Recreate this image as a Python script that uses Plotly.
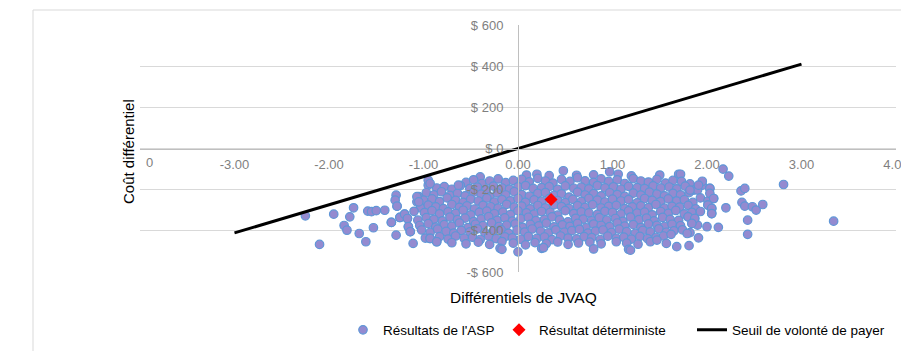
import plotly.graph_objects as go

# ---------------- data ----------------
x_tick_vals = [-3, -2, -1, 0, 1, 2, 3, 4]
x_tick_text = ["-3.00", "-2.00", "-1.00", "0.00", "1.00", "2.00", "3.00", "4.00"]
y_tick_vals = [600, 400, 200, 0, -200, -400, -600]
y_tick_text = ["$ 600", "$ 400", "$ 200", "$ 0", "-$ 200", "-$ 400", "-$ 600"]

# Probabilistic sensitivity analysis results
asp_x_r1 = [-0.40, 0.09, 0.20, 0.33, 0.48, 0.62, 0.80, 0.97, 1.06, 1.20, 1.50, 1.70, 1.72]
asp_y_r1 = [-138, -129, -125, -132, -108, -130, -128, -113, -125, -133, -129, -125, -125]

asp_x_r2 = [-0.55, -0.47, -0.38, -0.30, -0.21, -0.13, -0.05, 0.04, 0.12, 0.21, 0.29, 0.37, 0.46, 0.55, 0.63,
            0.71, 0.80, 0.88, 0.96, 1.05, 1.13, 1.22, 1.30, 1.38, 1.47, 1.56, 1.64, 1.73, 1.82]
asp_y_r2 = [-165, -152, -170, -158, -148, -166, -155, -150, -162, -145, -158, -168, -150, -160, -142,
            -157, -165, -148, -160, -152, -170, -146, -158, -163, -150, -168, -155, -160, -172]

asp_x_r3 = [-0.95, -0.86, -0.78, -0.70, -0.61, -0.51, -0.43, -0.34, -0.26, -0.17, -0.09, 0.00, 0.08, 0.16,
            0.25, 0.33, 0.42, 0.50, 0.59, 0.67, 0.75, 0.84, 0.92, 1.01, 1.09, 1.17, 1.26, 1.34, 1.43, 1.51,
            1.60, 1.68, 1.77, 1.86, 1.95, 2.03]
asp_y_r3 = [-178, -192, -185, -198, -180, -195, -188, -200, -183, -192, -197, -186, -180, -194,
            -190, -185, -199, -182, -193, -188, -196, -180, -191, -186, -198, -184, -190, -195, -182, -192,
            -187, -196, -183, -202, -178, -194]

asp_x_r4 = [-1.05, -0.97, -0.89, -0.81, -0.72, -0.64, -0.56, -0.47, -0.39, -0.30, -0.22, -0.13, -0.04, 0.04,
            0.12, 0.21, 0.29, 0.38, 0.46, 0.54, 0.63, 0.71, 0.80, 0.88, 0.97, 1.05, 1.13, 1.22, 1.30, 1.39,
            1.47, 1.55, 1.64, 1.72, 1.81, 1.90, 2.07]
asp_y_r4 = [-234, -215, -225, -210, -228, -218, -230, -212, -222, -235, -216, -226, -210, -224,
            -232, -218, -214, -228, -220, -236, -212, -226, -219, -230, -215, -224, -233, -217, -227, -212,
            -222, -230, -218, -225, -214, -202, -243]

asp_x_r5 = [-1.07, -1.00, -0.91, -0.83, -0.75, -0.66, -0.58, -0.50, -0.42, -0.33, -0.25, -0.17, -0.08, 0.00,
            0.08, 0.17, 0.25, 0.33, 0.42, 0.50, 0.58, 0.67, 0.75, 0.84, 0.92, 1.00, 1.09, 1.17, 1.26, 1.34,
            1.42, 1.51, 1.59, 1.68, 1.76, 1.85, 1.93, 2.01]
asp_y_r5 = [-259, -251, -245, -258, -240, -252, -262, -246, -255, -241, -260, -248, -254, -243,
            -262, -250, -256, -244, -253, -263, -247, -257, -242, -251, -260, -246, -255, -248, -264, -243,
            -252, -258, -245, -256, -249, -262, -240, -255]

asp_x_r6 = [-1.28, -1.03, -0.95, -0.87, -0.79, -0.70, -0.62, -0.54, -0.46, -0.37, -0.29, -0.21, -0.12, -0.04,
            0.04, 0.13, 0.21, 0.29, 0.38, 0.46, 0.54, 0.63, 0.71, 0.79, 0.88, 0.96, 1.04, 1.13, 1.21, 1.30,
            1.38, 1.46, 1.55, 1.63, 1.71, 1.80, 1.88, 2.01, 2.05]
asp_y_r6 = [-280, -288, -275, -284, -292, -272, -286, -279, -294, -276, -283, -290, -271, -285,
            -280, -293, -277, -288, -274, -282, -291, -278, -286, -273, -289, -281, -276, -292, -284, -279,
            -287, -272, -290, -281, -285, -276, -293, -275, -291]

asp_x_r7 = [-1.20, -1.10, -0.99, -0.91, -0.83, -0.74, -0.66, -0.58, -0.50, -0.41, -0.33, -0.25, -0.16, -0.08,
            0.00, 0.09, 0.17, 0.25, 0.34, 0.42, 0.50, 0.59, 0.67, 0.75, 0.84, 0.92, 1.00, 1.09, 1.17, 1.26,
            1.34, 1.42, 1.51, 1.59, 1.67, 1.76, 1.84, 1.93, 2.05]
asp_y_r7 = [-319, -305, -312, -302, -318, -308, -315, -300, -322, -310, -304, -317, -309, -321,
            -303, -313, -319, -306, -311, -324, -302, -316, -308, -313, -320, -305, -311, -318, -303, -314,
            -309, -322, -306, -315, -301, -318, -310, -306, -316]

asp_x_r8 = [-1.17, -1.25, -1.06, -0.97, -0.89, -0.80, -0.72, -0.64, -0.56, -0.47, -0.39, -0.31, -0.22, -0.14,
            -0.06, 0.03, 0.11, 0.19, 0.28, 0.36, 0.44, 0.53, 0.61, 0.69, 0.78, 0.86, 0.94, 1.03, 1.11, 1.19,
            1.28, 1.36, 1.44, 1.53, 1.61, 1.70, 1.80, 1.87]
asp_y_r8 = [-340, -335, -348, -336, -344, -352, -333, -346, -338, -355, -342, -331, -349, -337,
            -353, -341, -334, -350, -345, -332, -347, -356, -339, -343, -351, -336, -348, -340, -354, -333,
            -346, -338, -352, -335, -344, -349, -332, -340]

asp_x_r9 = [-1.34, -1.16, -1.04, -0.95, -0.87, -0.78, -0.70, -0.62, -0.53, -0.45, -0.37, -0.28, -0.20, -0.12,
            -0.03, 0.05, 0.13, 0.22, 0.30, 0.38, 0.47, 0.55, 0.63, 0.72, 0.80, 0.88, 0.97, 1.05, 1.13, 1.22,
            1.30, 1.38, 1.47, 1.55, 1.63, 1.72, 1.84, 1.90]
asp_y_r9 = [-359, -380, -374, -365, -382, -370, -377, -362, -384, -368, -375, -361, -379, -372,
            -366, -383, -369, -376, -363, -381, -371, -378, -364, -385, -367, -374, -380, -362, -377, -370,
            -384, -366, -373, -379, -368, -375, -364, -372]

asp_x_r10 = [-1.14, -1.02, -0.93, -0.85, -0.76, -0.68, -0.60, -0.51, -0.43, -0.35, -0.26, -0.18, -0.10, -0.01,
             0.07, 0.15, 0.24, 0.32, 0.40, 0.49, 0.57, 0.65, 0.74, 0.82, 0.90, 0.99, 1.07, 1.15, 1.24, 1.32,
             1.40, 1.49, 1.57, 1.65, 1.74, 1.82]
asp_y_r10 = [-404, -396, -408, -392, -403, -411, -398, -405, -390, -409, -400, -394, -412, -397,
             -406, -391, -402, -410, -395, -407, -399, -393, -411, -401, -396, -408, -392, -404, -413, -398,
             -405, -390, -407, -400, -395, -409]

asp_x_r11 = [-0.98, -0.93, -0.83, -0.74, -0.66, -0.57, -0.48, -0.40, -0.31, -0.23, -0.14, -0.06, 0.03,
             0.11, 0.20, 0.28, 0.36, 0.45, 0.53, 0.62, 0.70, 0.78, 0.87, 0.95, 1.04, 1.12, 1.20, 1.29, 1.37,
             1.46, 1.54, 1.62]
asp_y_r11 = [-435, -437, -428, -440, -425, -436, -431, -442, -426, -438, -429, -434, -441,
             -427, -437, -430, -443, -425, -435, -439, -428, -433, -442, -426, -436, -431, -440, -427, -438,
             -432, -425, -417]

asp_x_r12 = [-0.86, -0.70, -0.55, -0.42, -0.30, -0.17, -0.05, 0.08, 0.18, 0.30, 0.42, 0.53, 0.64, 0.76,
             0.88, 1.04, 1.15, 1.27, 1.40, 1.47, 1.57, 1.68]
asp_y_r12 = [-453, -458, -463, -455, -466, -452, -460, -468, -457, -462, -454, -466, -459, -455,
             -463, -453, -460, -465, -453, -445, -461, -477]

asp_x_r13 = [-0.19, -0.17, 0.00, 0.25, 0.27, 0.80, 1.17, 1.19, 1.81]
asp_y_r13 = [-485, -490, -502, -485, -482, -488, -490, -494, -472]

asp_x_left = [-2.25, -2.10, -1.95, -1.84, -1.81, -1.78, -1.74, -1.68, -1.61, -1.59, -1.55, -1.50, -1.41,
              -1.53, -1.34, -1.29, -1.30, -1.28, -1.29, -1.25, -1.20, -1.17, -1.16, -1.14, -1.11, -1.07,
              -1.05, -0.95, -0.93, -0.93, -0.86, -0.63]
asp_y_left = [-327, -466, -319, -374, -397, -332, -288, -413, -453, -304, -307, -302, -300,
              -385, -359, -227, -251, -280, -421, -335, -319, -340, -380, -404, -461, -234,
              -259, -154, -170, -437, -453, -178]

asp_x_right = [1.95, 2.03, 2.03, 2.07, 1.91, 1.82, 2.01, 2.05, 2.05, 1.80, 1.87, 1.84, 1.79, 1.91, 2.00,
               2.12, 2.20, 2.17, 2.23, 2.36, 2.40, 2.37, 2.40, 2.48, 2.52, 2.59, 2.43, 2.43, 2.81, 3.34]
asp_y_right = [-159, -194, -218, -243, -178, -202, -275, -291, -316, -332, -340, -364, -413, -434, -380,
               -383, -288, -100, -134, -206, -194, -262, -280, -283, -299, -272, -348, -417, -175, -353]

det_x = [0.35]
det_y = [-248]

wtp_x = [-3.0, 3.0]
wtp_y = [-410, 410]

# ---------------- assemble ----------------
asp_x = (asp_x_r1 + asp_x_r2 + asp_x_r3 + asp_x_r4 + asp_x_r5 + asp_x_r6 + asp_x_r7 + asp_x_r8 +
         asp_x_r9 + asp_x_r10 + asp_x_r11 + asp_x_r12 + asp_x_r13 + asp_x_left + asp_x_right)
asp_y = (asp_y_r1 + asp_y_r2 + asp_y_r3 + asp_y_r4 + asp_y_r5 + asp_y_r6 + asp_y_r7 + asp_y_r8 +
         asp_y_r9 + asp_y_r10 + asp_y_r11 + asp_y_r12 + asp_y_r13 + asp_y_left + asp_y_right)

FONT = "Liberation Sans, Arial, sans-serif"
TICKFONT = dict(family=FONT, size=13, color="#7f7f7f")
LEGFONT = dict(family=FONT, size=13.5, color="black")

PL, PW = 140, 756  # plot-area left edge and width in px


def px_to_paper_x(px):
    return (px - PL) / PW


fig = go.Figure()
fig.add_trace(go.Scatter(
    x=asp_x, y=asp_y, mode="markers", name="Résultats de l'ASP", legend="legend",
    marker=dict(size=8.5, color="rgb(148,138,208)", line=dict(color="rgb(95,150,215)", width=1.2)),
))
fig.add_trace(go.Scatter(
    x=det_x, y=det_y, mode="markers", name="Résultat déterministe", legend="legend2",
    marker=dict(size=10, symbol="diamond", color="#ff0000", line=dict(width=0)),
))
fig.add_trace(go.Scatter(
    x=wtp_x, y=wtp_y, mode="lines", name="Seuil de volonté de payer", legend="legend3",
    line=dict(color="black", width=3),
))

leg_common = dict(orientation="h", xanchor="left", y=-0.235, yanchor="middle",
                  font=LEGFONT, bgcolor="rgba(0,0,0,0)")

fig.update_layout(
    width=901, height=351,
    margin=dict(l=PL, r=901 - PL - PW, t=25, b=79, autoexpand=False),
    paper_bgcolor="white", plot_bgcolor="white",
    font=dict(family=FONT, color="black"),
    showlegend=True,
    legend=dict(x=px_to_paper_x(343), **leg_common),
    legend2=dict(x=px_to_paper_x(499), **leg_common),
    legend3=dict(x=px_to_paper_x(692), **leg_common),
    xaxis=dict(range=[-4, 4], domain=[0, 1], anchor="free", position=0.5, automargin=False,
               showgrid=False, zeroline=False, showline=True, linecolor="#bfbfbf", linewidth=1,
               tickvals=x_tick_vals, ticktext=x_tick_text, ticks="", tickfont=TICKFONT,
               ticklabeloverflow="allow", ticklabelstandoff=4),
    yaxis=dict(range=[-600, 600], domain=[0, 1], anchor="free", position=0.5, automargin=False,
               showgrid=True, gridcolor="#d9d9d9", gridwidth=1, zeroline=False,
               showline=True, linecolor="#bfbfbf", linewidth=1,
               tickvals=y_tick_vals, ticktext=y_tick_text, ticks="", tickfont=TICKFONT,
               ticklabelstandoff=12, ticklabeloverflow="allow"),
    shapes=[
        dict(type="line", xref="paper", yref="paper", x0=px_to_paper_x(33), x1=1.01,
             y0=(272 - 10) / 247, y1=(272 - 10) / 247, line=dict(color="#d9d9d9", width=1)),
        dict(type="line", xref="paper", yref="paper", x0=px_to_paper_x(33), x1=px_to_paper_x(33),
             y0=(272 - 10) / 247, y1=-0.33, line=dict(color="#d9d9d9", width=1)),
    ],
    annotations=[
        dict(text="0", xref="paper", yref="paper", x=px_to_paper_x(149), y=0.5, yshift=-14,
             showarrow=False, font=TICKFONT, xanchor="center", yanchor="middle"),
        dict(text="Différentiels de JVAQ", xref="paper", yref="paper", x=px_to_paper_x(523),
             y=(272 - 297) / 247, showarrow=False, xanchor="center", yanchor="middle",
             font=dict(family=FONT, size=15.5, color="black")),
        dict(text="Coût différentiel", xref="paper", yref="paper", x=px_to_paper_x(128),
             y=(272 - 152) / 247, showarrow=False, textangle=-90, xanchor="center", yanchor="middle",
             font=dict(family=FONT, size=15, color="black")),
    ],
)

fig.write_html("out.html", config={"displayModeBar": False},
               post_script="document.body.style.margin='0';document.body.style.padding='0';")
